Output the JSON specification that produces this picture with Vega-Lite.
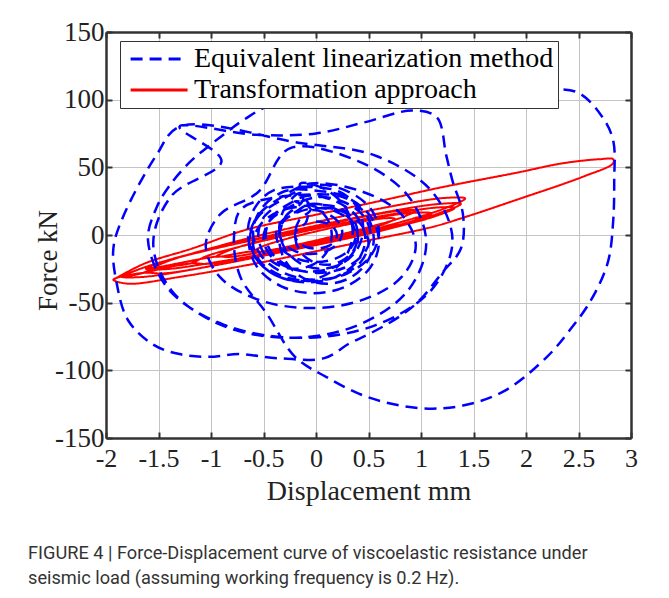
{
"$schema": "https://vega.github.io/schema/vega-lite/v6.json",
"width": 525, "height": 406,
"autosize": {"type": "none"},
"padding": {"left": 106, "top": 32, "right": 38, "bottom": 160},
"background": "white",
"title": {"text": ["FIGURE 4 | Force-Displacement curve of viscoelastic resistance under", "seismic load (assuming working frequency is 0.2 Hz)."], "orient": "bottom", "anchor": "start", "frame": "group", "dx": -78, "offset": 40, "font": "Roboto", "fontSize": 18.2, "fontWeight": "normal", "color": "#333333", "lineHeight": 25},
"data": {"values": [
{"s":"E","i":1,"x":0,"y":10},{"s":"E","i":2,"x":0.1,"y":8.7},{"s":"E","i":3,"x":0.173,"y":5},{"s":"E","i":4,"x":0.2,"y":0},{"s":"E","i":5,"x":0.173,"y":-5},{"s":"E","i":6,"x":0.1,"y":-8.7},{"s":"E","i":7,"x":0,"y":-10},{"s":"E","i":8,"x":-0.1,"y":-8.7},{"s":"E","i":9,"x":-0.173,"y":-5},{"s":"E","i":10,"x":-0.2,"y":0},{"s":"E","i":11,"x":-0.173,"y":5},{"s":"E","i":12,"x":-0.1,"y":8.7},
{"s":"E","i":13,"x":-0.05,"y":18},{"s":"E","i":14,"x":0.1,"y":15.9},{"s":"E","i":15,"x":0.21,"y":10},{"s":"E","i":16,"x":0.25,"y":2},{"s":"E","i":17,"x":0.21,"y":-6},{"s":"E","i":18,"x":0.1,"y":-11.9},{"s":"E","i":19,"x":-0.05,"y":-14},{"s":"E","i":20,"x":-0.2,"y":-11.9},{"s":"E","i":21,"x":-0.31,"y":-6},{"s":"E","i":22,"x":-0.35,"y":2},{"s":"E","i":23,"x":-0.31,"y":10},{"s":"E","i":24,"x":-0.2,"y":15.9},
{"s":"E","i":25,"x":0,"y":20},{"s":"E","i":26,"x":0.19,"y":17.3},{"s":"E","i":27,"x":0.329,"y":10},{"s":"E","i":28,"x":0.38,"y":0},{"s":"E","i":29,"x":0.329,"y":-10},{"s":"E","i":30,"x":0.19,"y":-17.3},{"s":"E","i":31,"x":0,"y":-20},{"s":"E","i":32,"x":-0.19,"y":-17.3},{"s":"E","i":33,"x":-0.329,"y":-10},{"s":"E","i":34,"x":-0.38,"y":0},{"s":"E","i":35,"x":-0.329,"y":10},{"s":"E","i":36,"x":-0.19,"y":17.3},
{"s":"E","i":37,"x":-0.05,"y":23},{"s":"E","i":38,"x":0.175,"y":19.7},{"s":"E","i":39,"x":0.34,"y":10.5},{"s":"E","i":40,"x":0.4,"y":-2},{"s":"E","i":41,"x":0.34,"y":-14.5},{"s":"E","i":42,"x":0.175,"y":-23.7},{"s":"E","i":43,"x":-0.05,"y":-27},{"s":"E","i":44,"x":-0.275,"y":-23.7},{"s":"E","i":45,"x":-0.44,"y":-14.5},{"s":"E","i":46,"x":-0.5,"y":-2},{"s":"E","i":47,"x":-0.44,"y":10.5},{"s":"E","i":48,"x":-0.275,"y":19.7},
{"s":"E","i":49,"x":0.02,"y":28},{"s":"E","i":50,"x":0.27,"y":24.2},{"s":"E","i":51,"x":0.453,"y":14},{"s":"E","i":52,"x":0.52,"y":0},{"s":"E","i":53,"x":0.453,"y":-14},{"s":"E","i":54,"x":0.27,"y":-24.2},{"s":"E","i":55,"x":0.02,"y":-28},{"s":"E","i":56,"x":-0.23,"y":-24.2},{"s":"E","i":57,"x":-0.413,"y":-14},{"s":"E","i":58,"x":-0.48,"y":0},{"s":"E","i":59,"x":-0.413,"y":14},{"s":"E","i":60,"x":-0.23,"y":24.2},
{"s":"E","i":61,"x":-0.08,"y":29},{"s":"E","i":62,"x":0.195,"y":24.7},{"s":"E","i":63,"x":0.396,"y":13},{"s":"E","i":64,"x":0.47,"y":-3},{"s":"E","i":65,"x":0.396,"y":-19},{"s":"E","i":66,"x":0.195,"y":-30.7},{"s":"E","i":67,"x":-0.08,"y":-35},{"s":"E","i":68,"x":-0.355,"y":-30.7},{"s":"E","i":69,"x":-0.556,"y":-19},{"s":"E","i":70,"x":-0.63,"y":-3},{"s":"E","i":71,"x":-0.556,"y":13},{"s":"E","i":72,"x":-0.355,"y":24.7},
{"s":"E","i":73,"x":0,"y":37},{"s":"E","i":74,"x":0.3,"y":32.3},{"s":"E","i":75,"x":0.52,"y":19.5},{"s":"E","i":76,"x":0.6,"y":2},{"s":"E","i":77,"x":0.52,"y":-15.5},{"s":"E","i":78,"x":0.3,"y":-28.3},{"s":"E","i":79,"x":0,"y":-33},{"s":"E","i":80,"x":-0.3,"y":-28.3},{"s":"E","i":81,"x":-0.52,"y":-15.5},{"s":"E","i":82,"x":-0.6,"y":2},{"s":"E","i":83,"x":-0.52,"y":19.5},{"s":"E","i":84,"x":-0.3,"y":32.3},
{"s":"E","i":85,"x":-0.02,"y":33},{"s":"E","i":86,"x":0.29,"y":27.9},{"s":"E","i":87,"x":0.517,"y":14},{"s":"E","i":88,"x":0.6,"y":-5},{"s":"E","i":89,"x":0.517,"y":-24},{"s":"E","i":90,"x":0.29,"y":-37.9},{"s":"E","i":91,"x":-0.02,"y":-43},{"s":"E","i":92,"x":-0.33,"y":-37.9},{"s":"E","i":93,"x":-0.557,"y":-24},{"s":"E","i":94,"x":-0.64,"y":-5},{"s":"E","i":95,"x":-0.557,"y":14},{"s":"E","i":96,"x":-0.33,"y":27.9},
{"s":"E","i":97,"x":-0.05,"y":38},{"s":"E","i":98,"x":0.45,"y":31.8},{"s":"E","i":99,"x":0.816,"y":15},{"s":"E","i":100,"x":0.95,"y":-8},{"s":"E","i":101,"x":0.816,"y":-31},{"s":"E","i":102,"x":0.45,"y":-47.8},{"s":"E","i":103,"x":-0.05,"y":-54},{"s":"E","i":104,"x":-0.55,"y":-47.8},{"s":"E","i":105,"x":-0.916,"y":-31},{"s":"E","i":106,"x":-1.05,"y":-8},{"s":"E","i":107,"x":-0.916,"y":15},{"s":"E","i":108,"x":-0.55,"y":31.8},
{"s":"E","i":109,"x":-0.25,"y":64},{"s":"E","i":110,"x":0.4,"y":54.6},{"s":"E","i":111,"x":0.876,"y":29},{"s":"E","i":112,"x":1.05,"y":-6},{"s":"E","i":113,"x":0.876,"y":-41},{"s":"E","i":114,"x":0.4,"y":-66.6},{"s":"E","i":115,"x":-0.25,"y":-76},{"s":"E","i":116,"x":-0.9,"y":-66.6},{"s":"E","i":117,"x":-1.376,"y":-41},{"s":"E","i":118,"x":-1.55,"y":-6},{"s":"E","i":119,"x":-1.376,"y":29},{"s":"E","i":120,"x":-0.9,"y":54.6},
{"s":"E","i":121,"x":-1.3,"y":80},{"s":"E","i":122,"x":-0.57,"y":74},{"s":"E","i":123,"x":0,"y":75},{"s":"E","i":124,"x":0.45,"y":83},{"s":"E","i":125,"x":0.92,"y":92},{"s":"E","i":126,"x":1.15,"y":87},{"s":"E","i":127,"x":1.24,"y":59},{"s":"E","i":128,"x":1.3,"y":40},{"s":"E","i":129,"x":1.4,"y":15},{"s":"E","i":130,"x":1.38,"y":-10},{"s":"E","i":131,"x":1.2,"y":-28},{"s":"E","i":132,"x":0.99,"y":-48},{"s":"E","i":133,"x":0.8,"y":-60},{"s":"E","i":134,"x":0.51,"y":-73},{"s":"E","i":135,"x":0.32,"y":-80},{"s":"E","i":136,"x":0.08,"y":-91},{"s":"E","i":137,"x":-0.37,"y":-91},{"s":"E","i":138,"x":-0.73,"y":-88},{"s":"E","i":139,"x":-1.02,"y":-90},{"s":"E","i":140,"x":-1.3,"y":-88},{"s":"E","i":141,"x":-1.55,"y":-81},{"s":"E","i":142,"x":-1.79,"y":-63},{"s":"E","i":143,"x":-1.9,"y":-35},{"s":"E","i":144,"x":-1.93,"y":-10},{"s":"E","i":145,"x":-1.84,"y":13},{"s":"E","i":146,"x":-1.52,"y":59},{"s":"E","i":147,"x":-1.3,"y":80},
{"s":"E","i":148,"x":-0.15,"y":68},{"s":"E","i":149,"x":0.575,"y":58.4},{"s":"E","i":150,"x":1.106,"y":32},{"s":"E","i":151,"x":1.3,"y":-4},{"s":"E","i":152,"x":1.106,"y":-40},{"s":"E","i":153,"x":0.575,"y":-66.4},{"s":"E","i":154,"x":-0.15,"y":-76},{"s":"E","i":155,"x":-0.875,"y":-66.4},{"s":"E","i":156,"x":-1.406,"y":-40},{"s":"E","i":157,"x":-1.6,"y":-4},
{"s":"E","i":158,"x":-1.52,"y":20},{"s":"E","i":159,"x":-1.39,"y":37},{"s":"E","i":160,"x":-1.2,"y":54},{"s":"E","i":161,"x":-1.0,"y":67},{"s":"E","i":162,"x":-0.85,"y":76},{"s":"E","i":163,"x":-0.69,"y":85},{"s":"E","i":164,"x":-0.4,"y":97},{"s":"E","i":165,"x":0.3,"y":103},{"s":"E","i":166,"x":1.0,"y":106},{"s":"E","i":167,"x":1.6,"y":108},{"s":"E","i":168,"x":2.2,"y":108},{"s":"E","i":169,"x":2.5,"y":105},{"s":"E","i":170,"x":2.72,"y":88},{"s":"E","i":171,"x":2.83,"y":70},{"s":"E","i":172,"x":2.84,"y":40},{"s":"E","i":173,"x":2.83,"y":10},{"s":"E","i":174,"x":2.78,"y":-20},{"s":"E","i":175,"x":2.62,"y":-48},{"s":"E","i":176,"x":2.4,"y":-72},{"s":"E","i":177,"x":2.2,"y":-90},{"s":"E","i":178,"x":1.8,"y":-115},{"s":"E","i":179,"x":1.4,"y":-126},{"s":"E","i":180,"x":1.0,"y":-128},{"s":"E","i":181,"x":0.5,"y":-120},{"s":"E","i":182,"x":0.1,"y":-105},{"s":"E","i":183,"x":-0.2,"y":-90},{"s":"E","i":184,"x":-0.47,"y":-58},{"s":"E","i":185,"x":-0.72,"y":-31},{"s":"E","i":186,"x":-0.78,"y":0},{"s":"E","i":187,"x":-0.7,"y":20},
{"s":"E","i":188,"x":0.1,"y":30},{"s":"E","i":189,"x":0.325,"y":25.6},{"s":"E","i":190,"x":0.49,"y":13.5},{"s":"E","i":191,"x":0.55,"y":-3},{"s":"E","i":192,"x":0.49,"y":-19.5},{"s":"E","i":193,"x":0.325,"y":-31.6},{"s":"E","i":194,"x":0.1,"y":-36},{"s":"E","i":195,"x":-0.125,"y":-31.6},{"s":"E","i":196,"x":-0.29,"y":-19.5},{"s":"E","i":197,"x":-0.35,"y":-3},{"s":"E","i":198,"x":-0.29,"y":13.5},{"s":"E","i":199,"x":-0.125,"y":25.6},
{"s":"E","i":200,"x":-0.15,"y":38},{"s":"E","i":201,"x":0.1,"y":33.2},{"s":"E","i":202,"x":0.283,"y":20},{"s":"E","i":203,"x":0.35,"y":2},{"s":"E","i":204,"x":0.283,"y":-16},{"s":"E","i":205,"x":0.1,"y":-29.2},{"s":"E","i":206,"x":-0.15,"y":-34},{"s":"E","i":207,"x":-0.4,"y":-29.2},{"s":"E","i":208,"x":-0.583,"y":-16},{"s":"E","i":209,"x":-0.65,"y":2},{"s":"E","i":210,"x":-0.583,"y":20},{"s":"E","i":211,"x":-0.4,"y":33.2},
{"s":"E","i":212,"x":0.05,"y":35},{"s":"E","i":213,"x":0.25,"y":31},{"s":"E","i":214,"x":0.396,"y":20},{"s":"E","i":215,"x":0.45,"y":5},{"s":"E","i":216,"x":0.396,"y":-10},{"s":"E","i":217,"x":0.25,"y":-21},{"s":"E","i":218,"x":0.05,"y":-25},{"s":"E","i":219,"x":-0.15,"y":-21},{"s":"E","i":220,"x":-0.296,"y":-10},{"s":"E","i":221,"x":-0.35,"y":5},{"s":"E","i":222,"x":-0.296,"y":20},{"s":"E","i":223,"x":-0.15,"y":31},
{"s":"E","i":224,"x":-0.05,"y":22},{"s":"E","i":225,"x":0.225,"y":18.2},{"s":"E","i":226,"x":0.426,"y":8},{"s":"E","i":227,"x":0.5,"y":-6},{"s":"E","i":228,"x":0.426,"y":-20},{"s":"E","i":229,"x":0.225,"y":-30.2},{"s":"E","i":230,"x":-0.05,"y":-34},{"s":"E","i":231,"x":-0.325,"y":-30.2},{"s":"E","i":232,"x":-0.526,"y":-20},{"s":"E","i":233,"x":-0.6,"y":-6},{"s":"E","i":234,"x":-0.526,"y":8},{"s":"E","i":235,"x":-0.325,"y":18.2},
{"s":"E","i":236,"x":0.1,"y":22},{"s":"E","i":237,"x":0.25,"y":19},{"s":"E","i":238,"x":0.36,"y":11},{"s":"E","i":239,"x":0.4,"y":0},{"s":"E","i":240,"x":0.36,"y":-11},{"s":"E","i":241,"x":0.25,"y":-19},{"s":"E","i":242,"x":0.1,"y":-22},{"s":"E","i":243,"x":-0.05,"y":-19},{"s":"E","i":244,"x":-0.16,"y":-11},{"s":"E","i":245,"x":-0.2,"y":0},{"s":"E","i":246,"x":-0.16,"y":11},{"s":"E","i":247,"x":-0.05,"y":19},
{"s":"E","i":248,"x":-0.2,"y":25},{"s":"E","i":249,"x":-0.025,"y":21.7},{"s":"E","i":250,"x":0.103,"y":12.5},{"s":"E","i":251,"x":0.15,"y":0},{"s":"E","i":252,"x":0.103,"y":-12.5},{"s":"E","i":253,"x":-0.025,"y":-21.7},{"s":"E","i":254,"x":-0.2,"y":-25},{"s":"E","i":255,"x":-0.375,"y":-21.7},{"s":"E","i":256,"x":-0.503,"y":-12.5},{"s":"E","i":257,"x":-0.55,"y":0},{"s":"E","i":258,"x":-0.503,"y":12.5},{"s":"E","i":259,"x":-0.375,"y":21.7},
{"s":"T","i":1,"x":-1.93,"y":-33},{"s":"T","i":2,"x":-1.63,"y":-21},{"s":"T","i":3,"x":-1.18,"y":-10},{"s":"T","i":4,"x":-0.66,"y":4},{"s":"T","i":5,"x":0,"y":15},{"s":"T","i":6,"x":0.6,"y":25},{"s":"T","i":7,"x":1.18,"y":35},{"s":"T","i":8,"x":1.91,"y":46},{"s":"T","i":9,"x":2.35,"y":53},{"s":"T","i":10,"x":2.7,"y":56},{"s":"T","i":11,"x":2.83,"y":56},{"s":"T","i":12,"x":2.83,"y":53},{"s":"T","i":13,"x":2.54,"y":43},{"s":"T","i":14,"x":1.91,"y":26},{"s":"T","i":15,"x":1.43,"y":13.5},{"s":"T","i":16,"x":1.11,"y":6},{"s":"T","i":17,"x":0.5,"y":-4},{"s":"T","i":18,"x":0,"y":-12},{"s":"T","i":19,"x":-0.57,"y":-21},{"s":"T","i":20,"x":-1.3,"y":-31},{"s":"T","i":21,"x":-1.79,"y":-36},{"s":"T","i":22,"x":-1.93,"y":-33},
{"s":"T","i":23,"x":-1.65,"y":-28},{"s":"T","i":24,"x":-1.444,"y":-28.3},{"s":"T","i":25,"x":-0.883,"y":-21.2},{"s":"T","i":26,"x":-0.115,"y":-8.5},{"s":"T","i":27,"x":0.653,"y":6.3},{"s":"T","i":28,"x":1.214,"y":19.3},{"s":"T","i":29,"x":1.42,"y":27},{"s":"T","i":30,"x":1.214,"y":27.3},{"s":"T","i":31,"x":0.653,"y":20.2},{"s":"T","i":32,"x":-0.115,"y":7.5},{"s":"T","i":33,"x":-0.883,"y":-7.3},{"s":"T","i":34,"x":-1.444,"y":-20.3},{"s":"T","i":35,"x":-1.65,"y":-28},
{"s":"T","i":36,"x":-1.85,"y":-31},{"s":"T","i":37,"x":-1.634,"y":-30.9},{"s":"T","i":38,"x":-1.043,"y":-23.6},{"s":"T","i":39,"x":-0.235,"y":-11},{"s":"T","i":40,"x":0.573,"y":3.4},{"s":"T","i":41,"x":1.164,"y":15.9},{"s":"T","i":42,"x":1.38,"y":23},{"s":"T","i":43,"x":1.164,"y":22.9},{"s":"T","i":44,"x":0.573,"y":15.6},{"s":"T","i":45,"x":-0.235,"y":3},{"s":"T","i":46,"x":-1.043,"y":-11.4},{"s":"T","i":47,"x":-1.634,"y":-23.9},{"s":"T","i":48,"x":-1.85,"y":-31},
{"s":"T","i":49,"x":-1.2,"y":-21},{"s":"T","i":50,"x":-1.031,"y":-21.3},{"s":"T","i":51,"x":-0.57,"y":-15.9},{"s":"T","i":52,"x":0.06,"y":-6.5},{"s":"T","i":53,"x":0.69,"y":4.5},{"s":"T","i":54,"x":1.151,"y":14.3},{"s":"T","i":55,"x":1.32,"y":20},{"s":"T","i":56,"x":1.151,"y":20.3},{"s":"T","i":57,"x":0.69,"y":14.9},{"s":"T","i":58,"x":0.06,"y":5.5},{"s":"T","i":59,"x":-0.57,"y":-5.6},{"s":"T","i":60,"x":-1.031,"y":-15.3},{"s":"T","i":61,"x":-1.2,"y":-21},
{"s":"T","i":62,"x":-1.62,"y":-25},{"s":"T","i":63,"x":-1.438,"y":-25.3},{"s":"T","i":64,"x":-0.94,"y":-19.9},{"s":"T","i":65,"x":-0.26,"y":-10.5},{"s":"T","i":66,"x":0.42,"y":0.5},{"s":"T","i":67,"x":0.918,"y":10.3},{"s":"T","i":68,"x":1.1,"y":16},{"s":"T","i":69,"x":0.918,"y":16.3},{"s":"T","i":70,"x":0.42,"y":10.9},{"s":"T","i":71,"x":-0.26,"y":1.5},{"s":"T","i":72,"x":-0.94,"y":-9.6},{"s":"T","i":73,"x":-1.438,"y":-19.3},{"s":"T","i":74,"x":-1.62,"y":-25},
{"s":"T","i":75,"x":-0.95,"y":-16},{"s":"T","i":76,"x":-0.823,"y":-16.2},{"s":"T","i":77,"x":-0.475,"y":-11.8},{"s":"T","i":78,"x":0,"y":-4},{"s":"T","i":79,"x":0.475,"y":5.2},{"s":"T","i":80,"x":0.823,"y":13.2},{"s":"T","i":81,"x":0.95,"y":18},{"s":"T","i":82,"x":0.823,"y":18.2},{"s":"T","i":83,"x":0.475,"y":13.8},{"s":"T","i":84,"x":0,"y":6},{"s":"T","i":85,"x":-0.475,"y":-3.2},{"s":"T","i":86,"x":-0.823,"y":-11.2},{"s":"T","i":87,"x":-0.95,"y":-16},
{"s":"T","i":88,"x":-0.6,"y":-12},{"s":"T","i":89,"x":-0.51,"y":-12.4},{"s":"T","i":90,"x":-0.263,"y":-9.5},{"s":"T","i":91,"x":0.075,"y":-4},{"s":"T","i":92,"x":0.413,"y":2.5},{"s":"T","i":93,"x":0.66,"y":8.4},{"s":"T","i":94,"x":0.75,"y":12},{"s":"T","i":95,"x":0.66,"y":12.4},{"s":"T","i":96,"x":0.413,"y":9.5},{"s":"T","i":97,"x":0.075,"y":4},{"s":"T","i":98,"x":-0.263,"y":-2.5},{"s":"T","i":99,"x":-0.51,"y":-8.4},{"s":"T","i":100,"x":-0.6,"y":-12}
]},
"layer": [
 {"transform": [{"filter": "datum.s == 'T'"}],
  "mark": {"type": "line", "interpolate": "catmull-rom", "strokeWidth": 2, "clip": true},
  "encoding": {
   "x": {"field": "x", "type": "quantitative", "scale": {"domain": [-2, 3], "nice": false, "zero": false},
     "axis": {"orient": "top", "values": [-2,-1.5,-1,-0.5,0,0.5,1,1.5,2,2.5,3], "labels": false, "title": null, "grid": false, "domainColor": "#333333", "domainWidth": 2.5, "tickColor": "#333333", "tickWidth": 2, "tickSize": -6}},
   "y": {"field": "y", "type": "quantitative", "scale": {"domain": [-150, 150], "nice": false, "zero": false},
     "axis": {"orient": "right", "values": [-150,-100,-50,0,50,100,150], "labels": false, "title": null, "grid": false, "domainColor": "#333333", "domainWidth": 2.5, "tickColor": "#333333", "tickWidth": 2, "tickSize": -6}},
   "order": {"field": "i", "type": "quantitative"},
   "color": {"field": "s", "type": "nominal", "scale": {"domain": ["E", "T"], "range": ["#0000ff", "#ff0000"]}},
   "strokeDash": {"field": "s", "type": "nominal", "scale": {"domain": ["E", "T"], "range": [[12, 7], [1, 0]]}}
  }},
 {"transform": [{"filter": "datum.s == 'E'"}],
  "mark": {"type": "line", "interpolate": "catmull-rom", "strokeWidth": 2.5, "clip": true},
  "encoding": {
   "x": {"field": "x", "type": "quantitative", "scale": {"domain": [-2, 3], "nice": false, "zero": false},
     "axis": {"orient": "bottom", "values": [-2,-1.5,-1,-0.5,0,0.5,1,1.5,2,2.5,3], "labelExpr": "datum.value + ''", "title": "Displacement mm", "grid": true, "gridColor": "#c4c4c4", "gridWidth": 1, "domainColor": "#333333", "domainWidth": 2.5, "tickColor": "#333333", "tickWidth": 2, "tickSize": -6, "labelFont": "Liberation Serif", "labelFontSize": 26, "labelColor": "#222222", "labelPadding": 13, "titleFont": "Liberation Serif", "titleFontSize": 28, "titleFontWeight": "normal", "titleColor": "#222222", "titlePadding": 6, "labelFlush": false, "labelOverlap": false}},
   "y": {"field": "y", "type": "quantitative", "scale": {"domain": [-150, 150], "nice": false, "zero": false},
     "axis": {"orient": "left", "values": [-150,-100,-50,0,50,100,150], "labelExpr": "datum.value + ''", "title": "Force  kN", "grid": true, "gridColor": "#c4c4c4", "gridWidth": 1, "domainColor": "#333333", "domainWidth": 2.5, "tickColor": "#333333", "tickWidth": 2, "tickSize": -6, "labelFont": "Liberation Serif", "labelFontSize": 27, "labelColor": "#222222", "labelPadding": 8, "titleFont": "Liberation Serif", "titleFontSize": 27, "titleFontWeight": "normal", "titleColor": "#222222", "titleX": -44, "titleY": 228, "labelFlush": false, "labelOverlap": false}},
   "order": {"field": "i", "type": "quantitative"},
   "color": {"field": "s", "type": "nominal", "scale": {"domain": ["E", "T"], "range": ["#0000ff", "#ff0000"]},
     "legend": {"orient": "none", "legendX": 14, "legendY": 9, "title": null, "values": ["E", "T"], "labelExpr": "datum.value == 'E' ? 'Equivalent linearization method\u00a0\u00a0\u00a0' : 'Transformation approach'", "labelFont": "Liberation Serif", "labelFontSize": 28, "labelColor": "#000000", "labelLimit": 600, "symbolType": "M-0.65,0H4.35", "symbolSize": 520, "symbolStrokeWidth": 3, "fillColor": "#ffffff", "strokeColor": "#333333", "padding": 4, "rowPadding": 3, "labelOffset": 42}},
   "strokeDash": {"field": "s", "type": "nominal", "scale": {"domain": ["E", "T"], "range": [[12, 7], [1, 0]]},
     "legend": {"orient": "none", "legendX": 14, "legendY": 9, "title": null, "values": ["E", "T"], "labelExpr": "datum.value == 'E' ? 'Equivalent linearization method\u00a0\u00a0\u00a0' : 'Transformation approach'", "labelFont": "Liberation Serif", "labelFontSize": 28, "labelColor": "#000000", "labelLimit": 600, "symbolType": "M-0.65,0H4.35", "symbolSize": 520, "symbolStrokeWidth": 3, "fillColor": "#ffffff", "strokeColor": "#333333", "padding": 4, "rowPadding": 3, "labelOffset": 42}}
  }}
],
"resolve": {"axis": {"x": "independent", "y": "independent"}},
"config": {"view": {"stroke": null}}
}
